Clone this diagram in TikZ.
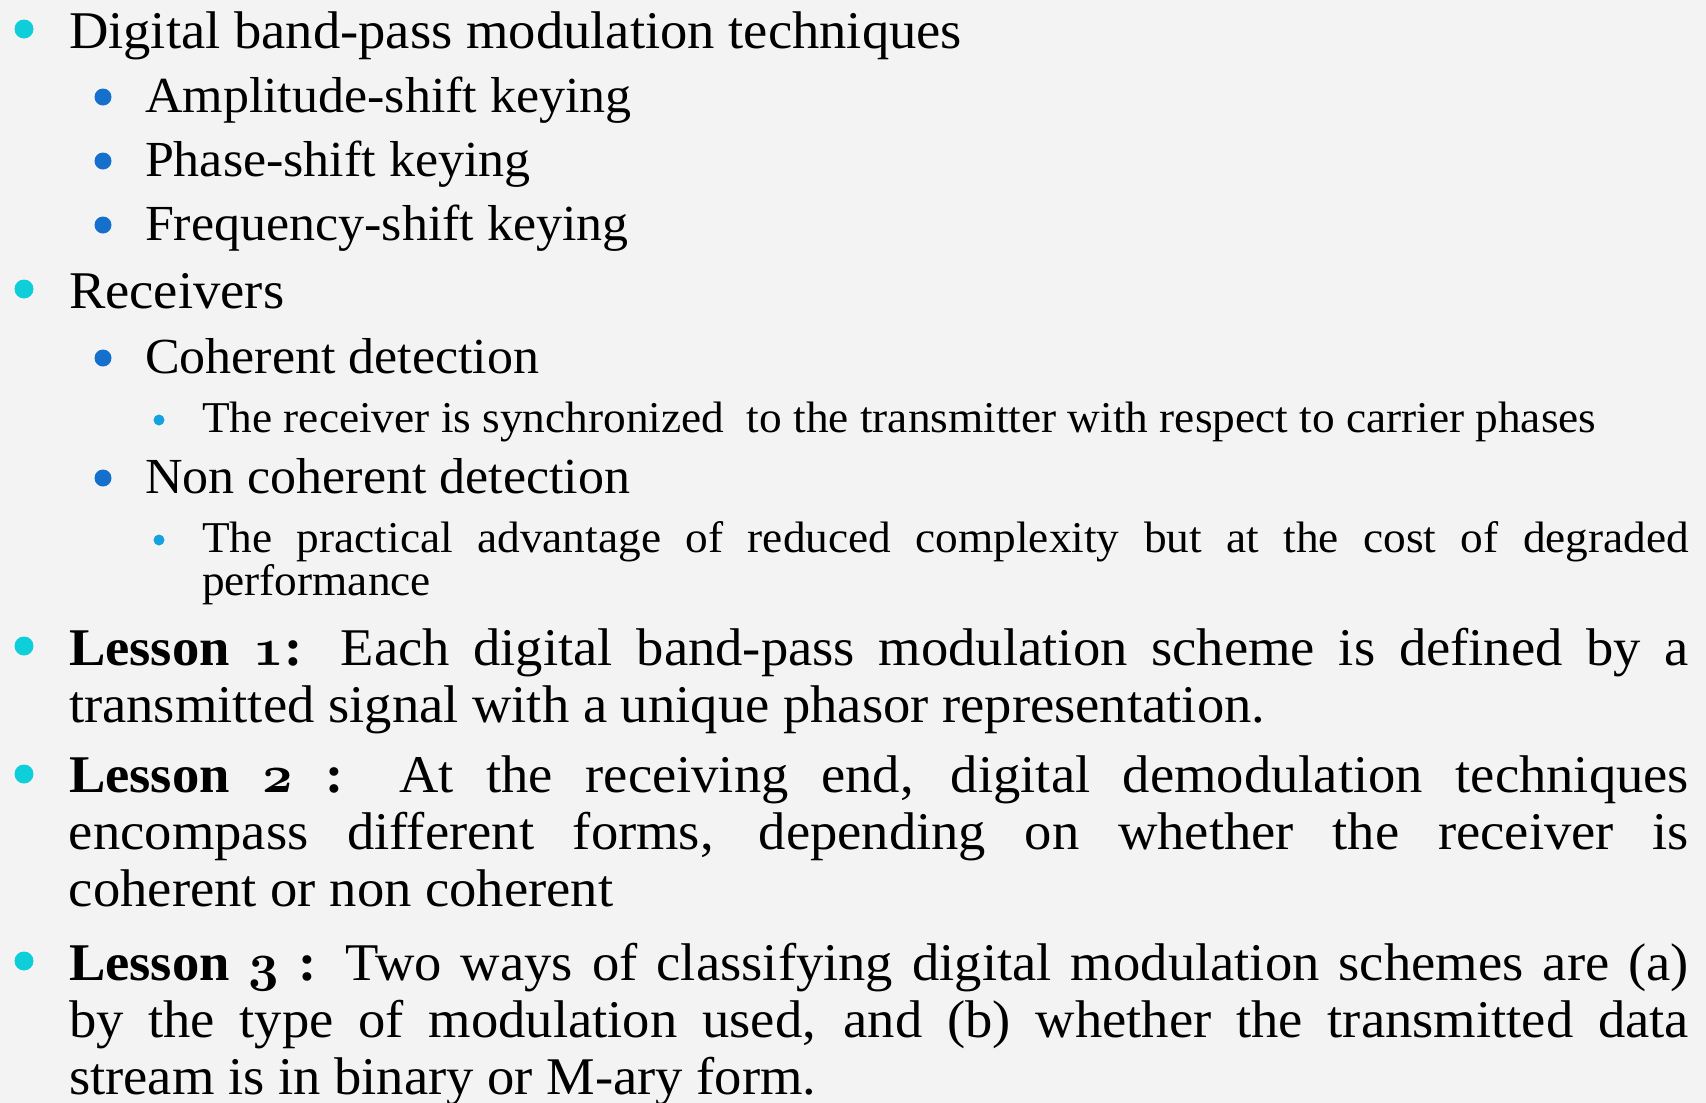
\documentclass[tikz,border=0pt]{standalone}
\usepackage{fontspec}
\usepackage{xcolor}
\setmainfont{Liberation Serif}[FakeStretch=1.03]
\usetikzlibrary{positioning}

% scalable bold old style figures
\DeclareFontFamily{OML}{osf}{\skewchar\font=127}
\DeclareFontShape{OML}{osf}{b}{it}{<-> cmmib10}{}

\definecolor{dotone}{RGB}{14,206,218}
\definecolor{dottwo}{RGB}{20,112,204}
\definecolor{dotthree}{RGB}{22,162,222}
\definecolor{slidebg}{RGB}{243,243,243}

\tikzset{
  txt/.style = {anchor=base west, inner sep=0pt, outer sep=0pt},
  lone/.style = {txt, font=\fontsize{53}{57}\selectfont},
  ltwo/.style = {txt, font=\fontsize{50.5}{57}\selectfont},
  lthree/.style = {txt, font=\fontsize{44}{43.5}\selectfont},
  para/.style = {text width=#1, align=justify},
  dotA/.style = {circle, fill=dotone, inner sep=0pt, minimum size=19pt},
  dotB/.style = {circle, fill=dottwo, inner sep=0pt, minimum size=17pt},
  dotC/.style = {circle, fill=dotthree, inner sep=0pt, minimum size=11pt},
}
% bold lesson label with old style figures
\newcommand{\lesson}[2]{\textbf{Lesson {\usefont{OML}{osf}{b}{it}#1}#2}}

\begin{document}
\begin{tikzpicture}[x=1pt, y=-1pt]
  \fill[slidebg] (0,0) rectangle (1706,1103);
  \useasboundingbox (0,0) rectangle (1706,1103);
  \hyphenpenalty=10000 \tolerance=10000

  % band-pass techniques
  \node[lone] (tech) at (69,48) {Digital band-pass modulation techniques};
  \node[dotA] (btech) at (24,29) {};
  \node[ltwo] (ask) at (145,112) {Amplitude-shift keying};
  \node[dotB] (bask) at (103,97) {};
  \node[ltwo] (psk) at (145,176) {Phase-shift keying};
  \node[dotB] (bpsk) at (103,161) {};
  \node[ltwo] (fsk) at (145,240) {Frequency-shift keying};
  \node[dotB] (bfsk) at (103,225) {};

  % receivers
  \node[lone] (recv) at (69,308) {Receivers};
  \node[dotA] (brecv) at (24,289) {};
  \node[ltwo] (coh) at (145,373) {Coherent detection};
  \node[dotB] (bcoh) at (103,358) {};
  \node[lthree] (cohtxt) at (202,432) {The receiver is synchronized\ \ to the transmitter with respect to carrier phases};
  \node[dotC] (bcohtxt) at (159,420) {};
  \node[ltwo] (ncoh) at (145,493) {Non coherent detection};
  \node[dotB] (bncoh) at (103,478) {};
  \node[lthree, para=1487pt] (ncohtxt) at (202,552)
    {The practical advantage of reduced complexity but at the cost of degraded\linebreak performance};
  \node[dotC] (bncohtxt) at (159,540) {};

  % lessons
  \node[lone, para=1620pt] (lsnone) at (69,665)
    {\lesson{1}{:} Each digital band-pass modulation scheme is defined by a\linebreak
     transmitted signal with a unique phasor representation.};
  \node[dotA] (blsnone) at (24,646) {};
  \node[lone, para=1620pt] (lsntwo) at (69,792)
    {\lesson{2}{ :} At the receiving end, digital demodulation techniques\linebreak
     encompass different forms, depending on whether the receiver is\linebreak
     coherent or non coherent};
  \node[dotA] (blsntwo) at (24,774) {};
  \node[lone, para=1620pt] (lsnthree) at (69,980)
    {\lesson{3}{ :} Two ways of classifying digital modulation schemes are (a)\linebreak
     by the type of modulation used, and (b) whether the transmitted data\linebreak
     stream is in binary or M-ary form.};
  \node[dotA] (blsnthree) at (24,961) {};
\end{tikzpicture}
\end{document}
